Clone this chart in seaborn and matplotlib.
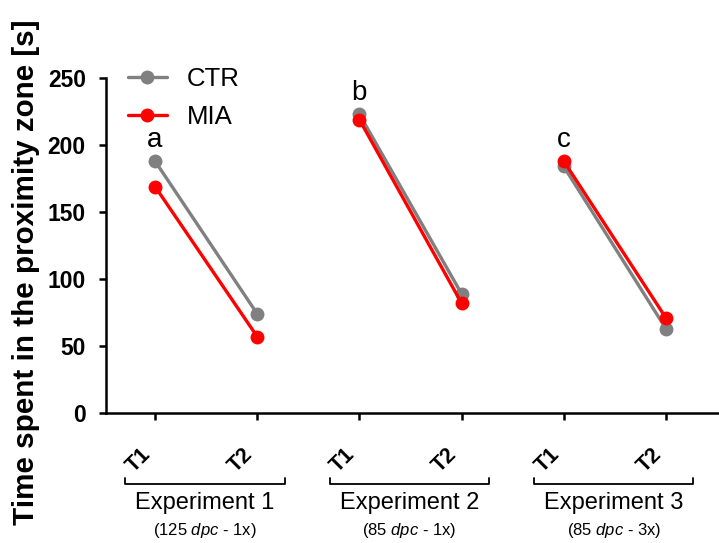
import matplotlib
matplotlib.use("Agg")
import matplotlib.pyplot as plt
import matplotlib.transforms as mtransforms
from matplotlib.lines import Line2D
import seaborn as sns
import pandas as pd

# ---- data ----
experiments = ["Experiment 1", "Experiment 2", "Experiment 3"]
subtitles = ["(125 $\\it{dpc}$ - 1x)", "(85 $\\it{dpc}$ - 1x)", "(85 $\\it{dpc}$ - 3x)"]
trials = ["T1", "T2"]
ctr_values = [188, 74, 223, 89, 184, 63]
mia_values = [169, 57, 219, 82, 188, 71]
letters = ["a", "b", "c"]
groups = ["CTR", "MIA"]
colors = {"CTR": "#808080", "MIA": "#ff0000"}

sns.set_style("ticks")
plt.rcParams["font.family"] = ["Liberation Sans", "DejaVu Sans"]
plt.rcParams["mathtext.fontset"] = "custom"
plt.rcParams["mathtext.rm"] = "Liberation Sans"
plt.rcParams["mathtext.it"] = "Liberation Sans:italic"
plt.rcParams["text.color"] = "black"
plt.rcParams["axes.labelcolor"] = "black"
plt.rcParams["xtick.color"] = "black"
plt.rcParams["ytick.color"] = "black"

rows = []
for g, vals in [("CTR", ctr_values), ("MIA", mia_values)]:
    for ei in range(len(experiments)):
        for ti in range(len(trials)):
            rows.append({"pos": 2 * ei + ti, "value": vals[2 * ei + ti],
                         "group": g, "exp": experiments[ei]})
df = pd.DataFrame(rows)

fig = plt.figure(figsize=(7.19, 5.43), dpi=100)
ax = fig.add_axes([106 / 719, 1 - 413 / 543, 1 - 106 / 719, (413 - 78) / 543])

sns.lineplot(data=df, x="pos", y="value", hue="group", hue_order=groups,
             units="exp", estimator=None, palette=colors, marker="o",
             markersize=10, markeredgewidth=0, linewidth=2.4, legend=False,
             ax=ax, sort=False)

ax.set_xlim(-0.48, 5.52)
ax.set_ylim(0, 250)
ax.set_yticks([0, 50, 100, 150, 200, 250])
ax.set_xticks(range(6))
ax.set_xticklabels(trials * 3, rotation=45, ha="right", fontweight="bold", fontsize=15.5)
offset = mtransforms.ScaledTranslation(10 / 72, 0, fig.dpi_scale_trans)
for lab in ax.get_xticklabels():
    lab.set_transform(lab.get_transform() + offset)
for lab in ax.get_yticklabels():
    lab.set_fontweight("bold")
    lab.set_fontsize(16.5)
ax.set_xlabel("")
ax.set_ylabel("")
fig.text(26 / 719, 1 - 272 / 543, "Time spent in the proximity zone [s]", rotation=90,
         ha="center", va="center", fontsize=21.3, fontweight="bold")

for s in ["top", "right"]:
    ax.spines[s].set_visible(False)
for s in ["left", "bottom"]:
    ax.spines[s].set_linewidth(1.8)
    ax.spines[s].set_color("black")
ax.tick_params(axis="both", direction="out", length=5, width=1.8, color="black")
ax.tick_params(axis="y", pad=9.5)
ax.tick_params(axis="x", pad=17)

# letters above T1
for ei, letter in enumerate(letters):
    top = max(ctr_values[2 * ei], mia_values[2 * ei])
    ax.annotate(letter, xy=(2 * ei, top), xytext=(0, 6), textcoords="offset points",
                ha="center", va="bottom", fontsize=20)

# brackets and experiment labels
trans = mtransforms.blended_transform_factory(ax.transData, ax.transAxes)
for ei, (name, sub) in enumerate(zip(experiments, subtitles)):
    x0, x1 = 2 * ei - 0.29, 2 * ei + 1 + 0.27
    ax.plot([x0, x0, x1, x1], [-0.194, -0.213, -0.213, -0.194], transform=trans,
            color="black", lw=1.3, clip_on=False)
    xc = (x0 + x1) / 2
    ax.text(xc, -0.268, name, transform=trans, ha="center", va="center", fontsize=17)
    ax.text(xc, -0.352, sub, transform=trans, ha="center", va="center", fontsize=12)

handles = [Line2D([0], [0], color=colors[g], marker="o", markersize=10,
                  markeredgewidth=0, lw=2.4) for g in groups]
fig.legend(handles, groups, loc="upper left", bbox_to_anchor=(128 / 719, 1 - 67 / 543),
           frameon=False, fontsize=18.5, handlelength=1.5, handletextpad=0.8,
           labelspacing=0.55, borderpad=0, borderaxespad=0)

fig.savefig("out.png", dpi=100)
